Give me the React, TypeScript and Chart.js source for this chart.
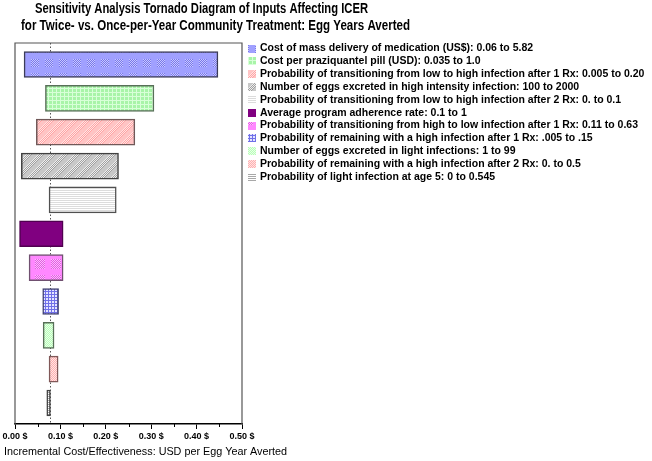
import React, { useEffect, useRef } from "react";
import { Chart, registerables } from "chart.js";

Chart.register(...registerables);

const TITLE_LINES = [
  "Sensitivity Analysis Tornado Diagram of Inputs Affecting ICER",
  "for Twice- vs. Once-per-Year Community Treatment: Egg Years Averted",
];
const X_TITLE = "Incremental Cost/Effectiveness: USD per Egg Year Averted";

const PARAMS = [
  "Cost of mass delivery of medication (US$): 0.06 to 5.82",
  "Cost per praziquantel pill (USD): 0.035 to 1.0",
  "Probability of transitioning from low to high infection after 1 Rx: 0.005 to 0.20",
  "Number of eggs excreted in high intensity infection: 100 to 2000",
  "Probability of transitioning from low to high infection after 2 Rx: 0. to 0.1",
  "Average program adherence rate: 0.1 to 1",
  "Probability of transitioning from high to low infection after 1 Rx: 0.11 to 0.63",
  "Probability of remaining with a high infection after 1 Rx: .005 to .15",
  "Number of eggs excreted in light infections: 1 to 99",
  "Probability of remaining with a high infection after 2 Rx: 0. to 0.5",
  "Probability of light infection at age 5: 0 to 0.545",
];
const LOW = [0.02, 0.067, 0.047, 0.014, 0.075, 0.01, 0.031, 0.061, 0.062, 0.075, 0.07];
const HIGH = [0.447, 0.306, 0.264, 0.228, 0.223, 0.106, 0.106, 0.096, 0.086, 0.095, 0.078];
const BASE_ICER = 0.076;
const X_TICKS = [0, 0.1, 0.2, 0.3, 0.4, 0.5];

const BORDERS = [
  "#3c3c58", "#587058", "#705858", "#404040", "#505050", "#500050",
  "#705070", "#404070", "#587058", "#805858", "#404040",
];

type Fn = (x: number, y: number) => string;
function tile(ctx: CanvasRenderingContext2D, w: number, h: number, fn: Fn): CanvasPattern {
  const c = document.createElement("canvas");
  c.width = w;
  c.height = h;
  const g = c.getContext("2d")!;
  for (let y = 0; y < h; y++)
    for (let x = 0; x < w; x++) {
      g.fillStyle = fn(x, y);
      g.fillRect(x, y, 1, 1);
    }
  return ctx.createPattern(c, "repeat")!;
}

function makeFills(ctx: CanvasRenderingContext2D): (CanvasPattern | string)[] {
  const blocks = (p: number, a: number, b: number, base: string, c1: string, c2: string): Fn =>
    (x, y) => {
      const xx = x % p, yy = y % p;
      if (xx >= a && xx < b && yy >= a && yy < b) return (x + y) % 2 ? c1 : c2;
      return base;
    };
  const grid = (p: number, bg: string, line: string): Fn => (x, y) =>
    x % p === 0 || y % p === 0 ? line : bg;
  const diag = (p: number, base: string, c1: string, c2: string): Fn => (x, y) =>
    (x + y) % p < p / 2 ? ((x + y) % 2 ? c1 : c2) : base;
  const hlines = (bg: string, line: string): Fn => (_x, y) => (y % 2 === 0 ? line : bg);
  const checker = (c1: string, c2: string): Fn => (x, y) => ((x + y) % 2 ? c1 : c2);
  return [
    tile(ctx, 14, 14, blocks(14, 3, 11, "#a0a0ff", "#7878ea", "#c8c8ff")),
    tile(ctx, 4, 4, grid(4, "#a8f4a8", "#d8ffd8")),
    tile(ctx, 12, 12, diag(12, "#ffc4c4", "#ffa4a4", "#ffe4e4")),
    tile(ctx, 12, 12, diag(12, "#c8c8c8", "#a0a0a0", "#eeeeee")),
    tile(ctx, 2, 2, hlines("#ffffff", "#dcdcdc")),
    "#800080",
    tile(ctx, 16, 16, blocks(16, 3, 13, "#ff88ff", "#e060e0", "#ffbaff")),
    tile(ctx, 3, 3, grid(3, "#e4e4ff", "#7070e8")),
    tile(ctx, 2, 2, checker("#b8ffb8", "#e8ffe8")),
    tile(ctx, 2, 2, checker("#ffb0b0", "#ffe4e4")),
    tile(ctx, 2, 2, hlines("#ffffff", "#a8a8a8")),
  ];
}

const FONT = '"Liberation Sans", Arial, sans-serif';

function fitText(ctx: CanvasRenderingContext2D, text: string, x: number, y: number, width: number) {
  const m = ctx.measureText(text).width;
  ctx.save();
  ctx.translate(x, y);
  ctx.scale(width / m, 1);
  ctx.fillText(text, 0, 0);
  ctx.restore();
}

export default function App() {
  const ref = useRef<HTMLCanvasElement>(null);
  useEffect(() => {
    const canvas = ref.current!;
    const ctx0 = canvas.getContext("2d")!;
    const fills = makeFills(ctx0);

    const deco = {
      id: "deco",
      beforeDatasetsDraw(chart: any) {
        const { ctx, chartArea: a, scales } = chart;
        const xp = scales.x.getPixelForValue(BASE_ICER);
        ctx.save();
        ctx.strokeStyle = "#555";
        ctx.lineWidth = 1;
        ctx.setLineDash([1.5, 2]);
        ctx.beginPath();
        ctx.moveTo(Math.round(xp) + 0.5, a.top);
        ctx.lineTo(Math.round(xp) + 0.5, a.bottom);
        ctx.stroke();
        ctx.restore();
      },
      afterDraw(chart: any) {
        const { ctx, chartArea: a, scales } = chart;
        ctx.save();
        // frame
        ctx.strokeStyle = "#555";
        ctx.lineWidth = 1.2;
        ctx.beginPath();
        ctx.moveTo(a.left, a.bottom);
        ctx.lineTo(a.left, a.top);
        ctx.lineTo(a.right, a.top);
        ctx.lineTo(a.right, a.bottom);
        ctx.stroke();
        // minor ticks
        ctx.strokeStyle = "#000";
        ctx.lineWidth = 1;
        for (let i = 0; i < X_TICKS.length - 1; i++) {
          const m = scales.x.getPixelForValue((X_TICKS[i] + X_TICKS[i + 1]) / 2);
          ctx.beginPath();
          ctx.moveTo(Math.round(m) + 0.5, a.bottom);
          ctx.lineTo(Math.round(m) + 0.5, a.bottom + 3);
          ctx.stroke();
        }
        // titles
        ctx.fillStyle = "#000";
        ctx.textBaseline = "middle";
        ctx.textAlign = "left";
        ctx.font = `bold 14.5px ${FONT}`;
        fitText(ctx, TITLE_LINES[0], 35, 9, 333);
        fitText(ctx, TITLE_LINES[1], 21, 26, 389);
        ctx.font = `10.8px ${FONT}`;
        ctx.fillText(X_TITLE, 4, 452);
        // legend
        ctx.font = `bold 10.5px ${FONT}`;
        PARAMS.forEach((p, i) => {
          const y = 48.5 + i * 12.85;
          ctx.fillStyle = fills[i] as any;
          ctx.fillRect(248, Math.round(y) - 4, 8, 8);
          ctx.fillStyle = "#000";
          ctx.fillText(p, 260, y);
        });
        ctx.restore();
      },
    };

    const chart = new Chart(canvas, {
      type: "bar",
      data: {
        datasets: [
          {
            data: PARAMS.map((_, i) => ({ y: i, x: [LOW[i], HIGH[i]] })) as any,
            backgroundColor: fills as any,
            borderColor: BORDERS,
            borderWidth: 1.5,
            borderSkipped: false,
            barThickness: 26,
          },
        ],
      },
      options: {
        animation: false,
        responsive: false,
        indexAxis: "y",
        layout: { padding: { left: 15, right: 410, top: 43, bottom: 21 } },
        plugins: { legend: { display: false }, title: { display: false }, tooltip: { enabled: false } },
        scales: {
          x: {
            type: "linear",
            position: "bottom",
            min: 0,
            max: 0.5,
            afterBuildTicks: (s: any) => {
              s.ticks = X_TICKS.map((v) => ({ value: v }));
            },
            afterFit: (s: any) => {
              s.height = 16;
            },
            ticks: {
              callback: (v: any) => Number(v).toFixed(2) + " $",
              font: { family: FONT, size: 9, weight: "bold" },
              color: "#000",
              padding: 2,
              maxRotation: 0,
              autoSkip: false,
            },
            grid: { drawOnChartArea: false, drawTicks: true, tickLength: 5, color: "#000" },
            border: { display: true, color: "#000", width: 1.5 },
          },
          y: { type: "linear", display: false, offset: false, min: -0.635, max: 10.62, reverse: true },
        },
      },
      plugins: [deco],
    } as any);
    return () => chart.destroy();
  }, []);
  return (
    <div style={{ position: "fixed", left: 0, top: 0, width: 652, height: 461, background: "#fff" }}>
      <canvas ref={ref} width={652} height={461} style={{ width: 652, height: 461 }} />
    </div>
  );
}
